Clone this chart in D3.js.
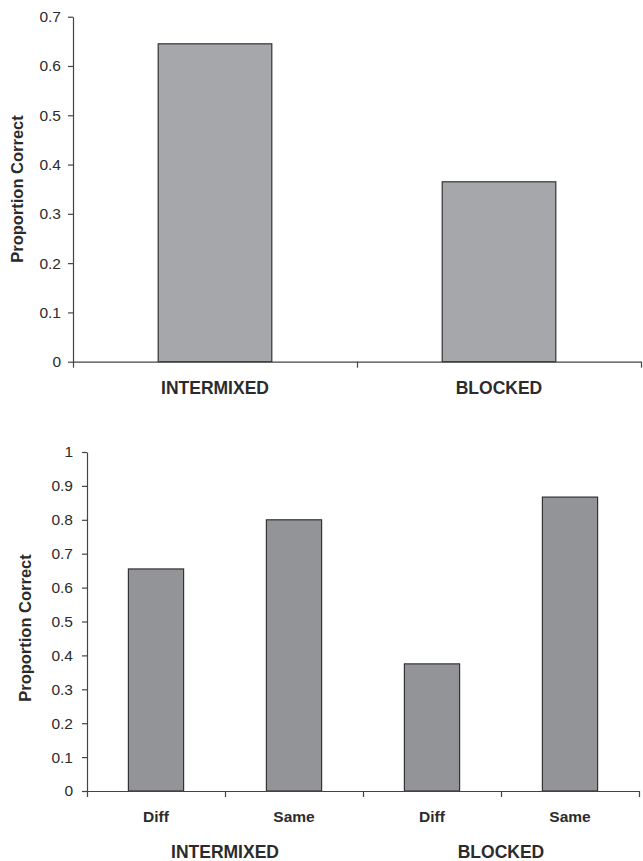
<!DOCTYPE html>
<html>
<head>
	<title>Proportion correct</title>
	<script src="https://cdn.jsdelivr.net/npm/d3@7"></script>
</head>
<style type="text/css">
	body { margin:0; background:#fff; }
	text { font-family:"Liberation Sans", Arial, sans-serif; fill:#2b2b2b; }
</style>
<body>
</body>
</html>
<script type="text/javascript">
	// top panel
	var topCategories = ["INTERMIXED", "BLOCKED"];
	var topValues = [0.645, 0.365];
	var topTicks = [0, 0.1, 0.2, 0.3, 0.4, 0.5, 0.6, 0.7];
	// bottom panel
	var bottomGroups = ["INTERMIXED", "BLOCKED"];
	var bottomConditions = ["Diff", "Same"];
	var bottomValues = [0.655, 0.80, 0.375, 0.867];
	var bottomTicks = [0, 0.1, 0.2, 0.3, 0.4, 0.5, 0.6, 0.7, 0.8, 0.9, 1];
	var yTitle = "Proportion Correct";

	var width = 643, height = 861;
	var svg = d3.select("body").append("svg").attr("width", width).attr("height", height);

	function panel(opt) {
		var g = svg.append("g");
		var n = opt.keys.length;
		var y = d3.scaleLinear().domain([0, d3.max(opt.ticks)]).range([opt.bottom, opt.top]);
		var x = d3.scaleBand().domain(opt.keys).range([opt.left, opt.right])
					.paddingInner(0.6).paddingOuter(0.3);
		// boundaries between categories
		var xb = d3.scaleLinear().domain([0, n]).range([opt.left, opt.right]);

		g.selectAll(".bar").data(opt.values).enter().append("rect")
			.attr("x", function(d, i){ return x(opt.keys[i]); })
			.attr("width", x.bandwidth())
			.attr("y", function(d){ return y(d); })
			.attr("height", function(d){ return y(0) - y(d); })
			.attr("fill", opt.fill)
			.attr("stroke", "#333")
			.attr("stroke-width", 1.2);

		var ya = g.append("g").attr("transform", "translate(" + opt.left + ",0)")
			.call(d3.axisLeft(y).tickValues(opt.ticks).tickFormat(d3.format("")).tickSize(5).tickSizeOuter(0).tickPadding(opt.pad));
		ya.selectAll("text").style("font-size", "15.5px").style("font-family", null);

		var xa = g.append("g").attr("transform", "translate(0," + opt.bottom + ")")
			.call(d3.axisBottom(xb).tickValues(d3.range(n + 1)).tickFormat("").tickSize(6).tickSizeOuter(0));

		g.selectAll("path.domain, .tick line").attr("stroke", "#444").attr("stroke-width", 1.2);

		g.append("text")
			.attr("transform", "translate(" + opt.titleX + "," + opt.titleY + ") rotate(-90)")
			.attr("text-anchor", "middle")
			.style("font-size", "16.5px").style("font-weight", "bold")
			.text(yTitle);
		return { x: x, xb: xb, g: g };
	}

	// top chart
	var p1 = panel({ keys: topCategories, values: topValues, ticks: topTicks,
		left: 73, right: 641, top: 16.7, bottom: 361.7, fill: "#a6a7ab", pad: 7,
		titleX: 23, titleY: 189 });
	p1.g.selectAll(".cat").data(topCategories).enter().append("text")
		.attr("x", function(d){ return p1.x(d) + p1.x.bandwidth() / 2; })
		.attr("y", 394)
		.attr("text-anchor", "middle")
		.style("font-size", "17.5px").style("font-weight", "bold")
		.text(function(d){ return d; });

	// bottom chart
	var keys = [];
	bottomGroups.forEach(function(gname){
		bottomConditions.forEach(function(c){ keys.push(gname + "|" + c); });
	});
	var p2 = panel({ keys: keys, values: bottomValues, ticks: bottomTicks,
		left: 87, right: 639, top: 452, bottom: 791, fill: "#939498", pad: 9,
		titleX: 31, titleY: 628 });
	p2.g.selectAll(".cond").data(keys).enter().append("text")
		.attr("x", function(d){ return p2.x(d) + p2.x.bandwidth() / 2; })
		.attr("y", 822)
		.attr("text-anchor", "middle")
		.style("font-size", "15.5px").style("font-weight", "bold")
		.text(function(d){ return d.split("|")[1]; });
	p2.g.selectAll(".grp").data(bottomGroups).enter().append("text")
		.attr("x", function(d, i){ return p2.xb(i * bottomConditions.length + bottomConditions.length / 2); })
		.attr("y", 858)
		.attr("text-anchor", "middle")
		.style("font-size", "17.5px").style("font-weight", "bold")
		.text(function(d){ return d; });
</script>
